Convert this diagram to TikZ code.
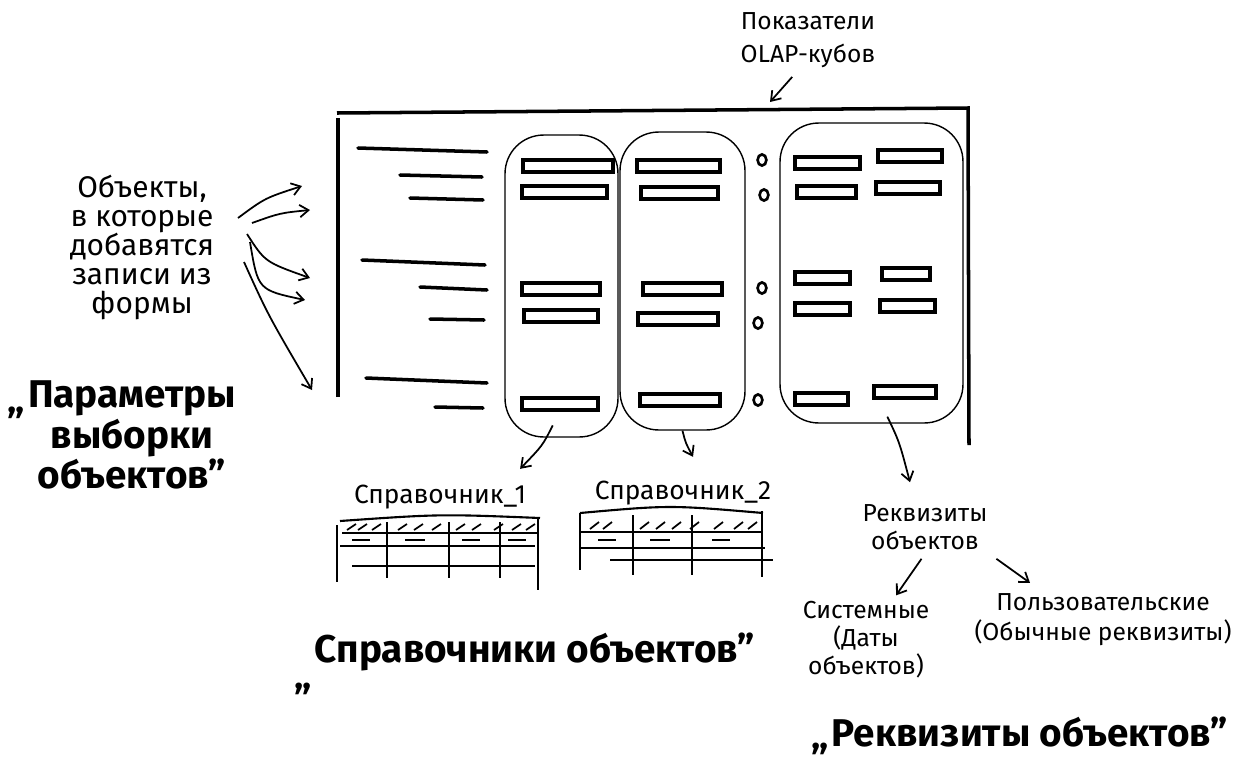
\documentclass[tikz,border=0pt]{standalone}
\usepackage{fontspec}
\setmainfont{Fira Sans}
\usetikzlibrary{arrows.meta,calc}
\tikzset{>={Straight Barb[length=5pt,width=7pt]}}
\tikzset{
  hand/.style={font=\fontsize{15}{16}\selectfont, inner sep=1pt},
  handbig/.style={font=\fontsize{22}{23}\selectfont\bfseries, inner sep=1pt},
  frame/.style={line width=2pt},
  blob/.style={draw, rounded corners=22pt, line width=0.8pt},
  field/.style={line width=1.8pt},
  labelline/.style={line width=2pt, line cap=round},
  sketch/.style={line width=1.2pt},
  pen/.style={line width=1pt},
}

\begin{document}
\begin{tikzpicture}[x=0.02cm, y=-0.02cm]
		\useasboundingbox (0,0) rectangle (1244,758);
		\draw[frame] (338,397) -- (338,118);
		\draw[frame] (337,113) -- (968,108) -- (969,445);
		\coordinate (formtop) at (770,102);
		\foreach \xa/\xb/\ya/\yb in {358/487/148/152, 400/482/175/177, 410/483/198/200, 362/485/260/265, 420/487/287/290, 430/484/319/320, 366/487/378/383, 435/483/407/408}
			\draw[labelline] (\xa,\ya) -- (\xb,\yb);
		\node[blob, minimum width=2.26cm, minimum height=6.04cm] (blobA) at (561.5,286) {};
		\node[blob, minimum width=2.5cm, minimum height=5.96cm] (blobB) at (682.5,281) {};
		\node[blob, minimum width=3.66cm, minimum height=6cm] (blobC) at (871.5,273) {};
		\foreach \xa/\xb/\y in {523/613/166, 522/607/192, 522/600/289, 524/598/316, 522/598/404,
			637/720/166, 641/718/193, 643/722/289, 638/718/319, 640/720/400,
			795/860/163, 797/856/192, 795/850/278, 795/850/309, 795/848/399,
			878/942/156, 876/940/188, 882/930/274, 880/935/306, 874/936/392}
			\draw[field] (\xa,\y-6) rectangle (\xb,\y+6);
		\foreach \x/\y in {762/160, 764/195, 762/288, 758/323, 758/400}
			\draw[line width=1.5pt] (\x,\y) ellipse (2.5pt and 3.2pt);
		\node[hand, align=center, font=\fontsize{14}{19}\selectfont] (olap) at (808,40) {Показатели\\OLAP-кубов};
		\draw[pen,->] ([xshift=-9pt,yshift=-4pt]olap.south) -- (formtop);
		\node[hand, align=center, font=\fontsize{17}{16.5}\selectfont] (objects) at (142,247) {Объекты,\\в которые\\добавятся\\записи из\\формы};
		\coordinate (o1) at (238,218);
		\coordinate (o2) at (252,223);
		\coordinate (o3) at (247,234);
		\coordinate (o4) at (250,242);
		\coordinate (o5) at (244,262);
		\coordinate (t1) at (302,186);
		\coordinate (t2) at (310,210);
		\coordinate (t3) at (310,278);
		\coordinate (t4) at (305,300);
		\coordinate (t5) at (312,390);
		\draw[pen,->] (o1) .. controls (265,198) .. (t1);
		\draw[pen,->] (o2) .. controls (280,213) .. (t2);
		\draw[pen,->] (o3) .. controls (265,262) .. (t3);
		\draw[pen,->] (o4) .. controls (258,290) .. (t4);
		\draw[pen,->] (o5) .. controls (268,315) .. (t5);
		\node[handbig, align=center] (params) at (132,435) {Параметры\\выборки\\объектов"};
		\node[handbig] (paramsq) at (16,422) {"};
		\node[hand] (ref1) at (440,497) {Справочник\_1};
		\node[hand] (ref2) at (683,493) {Справочник\_2};
		\draw[pen,->] ([xshift=-5pt,yshift=7pt]blobA.south) .. controls +(-10,20) .. ($(ref1.north east)+(-8,-14)$);
		\draw[pen,->] (blobB.south) .. controls +(3,12) .. ($(ref2.north)+(10,-22)$);
		\draw[sketch] (337,525) -- (337,582);
		\draw[sketch] (340,521) .. controls (440,514) .. (540,518);
		\draw[sketch] (538,517) -- (538,590);
		\draw[sketch] (342,533) -- (538,533);
		\draw[sketch] (340,546) -- (535,546);
		\draw[sketch] (352,566) -- (535,566);
		\foreach \x in {387,449,500}
			\draw[sketch] (\x,522) -- (\x,578);
		\foreach \x in {347,358,372,398,414,432,456,472,494,512,526}
			\draw[pen] (\x,530) -- (\x+9,524);
		\foreach \xa/\xb in {352/370, 405/425, 462/480, 508/526}
			\draw[pen] (\xa,540) -- (\xb,540);
		\draw[sketch] (580,513) .. controls (670,505) .. (763,513);
		\draw[sketch] (580,513) -- (580,570);
		\draw[sketch] (762,511) -- (762,577);
		\draw[sketch] (580,532) -- (762,532);
		\draw[sketch] (580,548) -- (765,548);
		\draw[sketch] (610,560) -- (773,560);
		\foreach \x in {633,692}
			\draw[sketch] (\x,515) -- (\x,575);
		\foreach \x in {590,603,640,656,672,690,714,734,748}
			\draw[pen] (\x,529) -- (\x+9,522);
		\foreach \xa/\xb in {598/616, 650/670, 712/730}
			\draw[pen] (\xa,540) -- (\xb,540);
		\node[hand, align=center, font=\fontsize{14}{16}\selectfont] (rekv) at (925,527) {Реквизиты\\объектов};
		\draw[pen,->] ([xshift=9pt,yshift=4pt]blobC.south) .. controls +(12,25) .. ($(rekv.north)+(-15,-20)$);
		\node[hand, align=center, font=\fontsize{14}{16}\selectfont] (sys) at (866,640) {Системные\\(Даты\\объектов)};
		\node[hand, align=center, font=\fontsize{14}{17}\selectfont] (user) at (1103,620) {Пользовательские\\(Обычные реквизиты)};
		\draw[pen,->] ([xshift=-2pt,yshift=-4pt]rekv.south) -- ($(sys.north)+(30,-4)$);
		\draw[pen,->] ([xshift=4pt,yshift=-4pt]rekv.south east) -- ($(user.north)+(-73,-9)$);
		\node[handbig] (dirs) at (535,652) {Справочники объектов"};
		\node[handbig, anchor=base] (dirsq) at (303,688) {„};
		\node[handbig] (props) at (1030,732) {Реквизиты объектов"};
		\node[handbig, anchor=base] (propsq) at (820,748) {„};
	\end{tikzpicture}
\end{document}
